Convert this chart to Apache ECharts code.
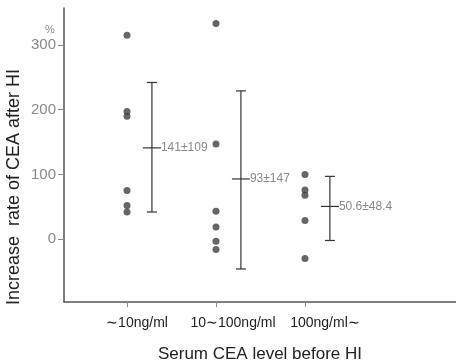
<!DOCTYPE html>
<html><head><meta charset="utf-8">
<script src="https://cdn.jsdelivr.net/npm/echarts@6/dist/echarts.min.js"></script>
<style>html,body{margin:0;padding:0;background:#fff}#c{width:456px;height:362px}</style>
</head><body><div id="c"></div>
<script>
var categories = ['\u223C10ng/ml', '10\u223C100ng/ml', '100ng/ml\u223C'];
var group1 = [315, 197, 190, 75, 52, 42];
var group2 = [333, 147, 43, 19, -3, -16];
var group3 = [100, 76, 68, 29, -30];
var means = [141, 93, 50.6];
var errLow = [42, -46, -2];
var errHigh = [242, 229, 97];
var meanLabels = ['141\u00B1109', '93\u00B1147', '50.6\u00B148.4'];
var yTicks = [0, 100, 200, 300];

var groups = [group1, group2, group3];
var pts = [];
groups.forEach(function (g, i) { g.forEach(function (v) { pts.push([i + 1, v]); }); });
var errData = means.map(function (m, i) { return [i + 1 + 0.28, m, errLow[i], errHigh[i], meanLabels[i]]; });

var chart = echarts.init(document.getElementById('c'), null, {renderer: 'canvas'});
var axisCol = '#555';
chart.setOption({
  animation: false,
  grid: {left: 64, right: 0, top: 8, bottom: 60, containLabel: false, outerBoundsMode: 'none'},
  xAxis: {
    type: 'value', min: 0.292, max: 4.697,
    splitLine: {show: false},
    axisLine: {show: true, onZero: false, lineStyle: {color: axisCol, width: 1.5}},
    axisTick: {show: true, customValues: [1, 2, 3], length: 5, lineStyle: {color: '#888'}},
    axisLabel: {
      customValues: [1, 2, 3], margin: 14,
      formatter: function (v) {
        var i = Math.round(v) - 1;
        return '{' + ['a', 'b', 'c'][i] + '|' + categories[i] + '}';
      },
      rich: {
        a: {fontSize: 14, color: '#222', fontFamily: 'Liberation Sans', padding: [0, 0, 0, 20]},
        b: {fontSize: 14, color: '#222', fontFamily: 'Liberation Sans', padding: [0, 0, 0, 34]},
        c: {fontSize: 14, color: '#222', fontFamily: 'Liberation Sans', padding: [0, 0, 0, 40]}
      }
    },
    name: 'Serum CEA level before HI', nameLocation: 'middle', nameGap: 44,
    nameTextStyle: {fontSize: 17, color: '#222', fontFamily: 'Liberation Sans'}
  },
  yAxis: {
    type: 'value', min: -97, max: 357,
    splitLine: {show: false},
    axisLine: {show: true, onZero: false, lineStyle: {color: axisCol, width: 1.5}},
    axisTick: {show: true, customValues: yTicks, length: 6, lineStyle: {color: '#888'}},
    axisLabel: {customValues: yTicks, fontSize: 15, color: '#888', margin: 8, fontFamily: 'Liberation Sans'}
  },
  graphic: [
    {type: 'text', x: 14, y: 187, rotation: Math.PI / 2,
     style: {text: 'Increase  rate of CEA after HI', fontSize: 18, fill: '#222', fontFamily: 'Liberation Sans', align: 'center', verticalAlign: 'middle'}},
    {type: 'text', x: 50, y: 30,
     style: {text: '%', fontSize: 11, fill: '#888', fontFamily: 'Liberation Sans', align: 'center', verticalAlign: 'middle'}}
  ],
  series: [
    {type: 'scatter', data: pts, symbol: 'circle', symbolSize: 7, itemStyle: {color: '#404040'}},
    {type: 'custom', data: errData,
     renderItem: function (params, api) {
       var x = api.value(0);
       var cMean = api.coord([x, api.value(1)]);
       var cLo = api.coord([x, api.value(2)]);
       var cHi = api.coord([x, api.value(3)]);
       var st = {stroke: '#333', lineWidth: 1.2};
       return {type: 'group', children: [
         {type: 'line', shape: {x1: cLo[0], y1: cLo[1], x2: cHi[0], y2: cHi[1]}, style: st},
         {type: 'line', shape: {x1: cHi[0] - 5, y1: cHi[1], x2: cHi[0] + 5, y2: cHi[1]}, style: st},
         {type: 'line', shape: {x1: cLo[0] - 5, y1: cLo[1], x2: cLo[0] + 5, y2: cLo[1]}, style: st},
         {type: 'line', shape: {x1: cMean[0] - 9, y1: cMean[1], x2: cMean[0] + 9, y2: cMean[1]}, style: st},
         {type: 'text', x: cMean[0] + 9, y: cMean[1],
          style: {text: api.value(4), fontSize: 12, fill: '#888', fontFamily: 'Liberation Sans', align: 'left', verticalAlign: 'middle'}}
       ]};
     }}
  ]
});
</script></body></html>
